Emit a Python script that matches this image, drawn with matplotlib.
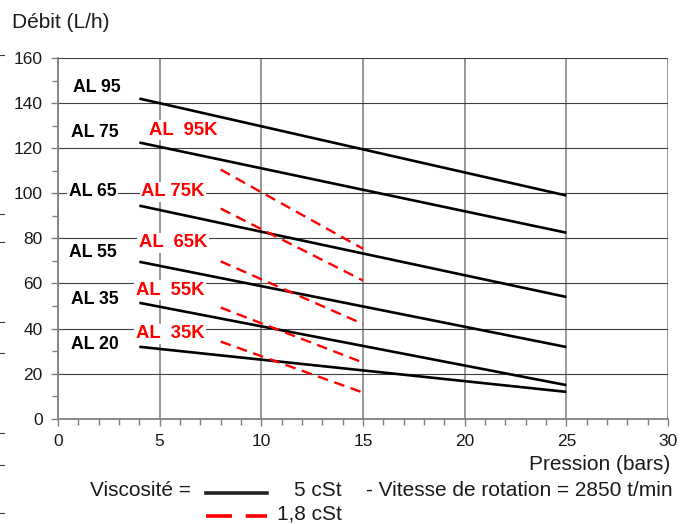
import matplotlib.pyplot as plt
from matplotlib.lines import Line2D
from matplotlib.ticker import MultipleLocator

plt.rcParams['font.family'] = ['Liberation Sans', 'DejaVu Sans']

# pompes standard (5 cSt) : debit a 4 bars et a 25 bars
models = ['AL 95', 'AL 75', 'AL 65', 'AL 55', 'AL 35', 'AL 20']
p_std = [4, 25]
q_std = [[142, 99], [122.5, 82.5], [94.5, 54], [69.6, 31.8], [51.4, 14.9], [31.9, 11.9]]
lab_std_x = [1.9, 1.8, 1.7, 1.7, 1.8, 1.8]
lab_std_y = [147, 127, 100.7, 73.6, 53, 33]

# pompes K (1,8 cSt) : debit a 8 bars et a 15 bars
models_k = ['AL  95K', 'AL 75K', 'AL  65K', 'AL  55K', 'AL  35K']
p_k = [8, 15]
q_k = [[110.5, 75.4], [93.2, 61.3], [69.8, 42], [49.3, 24.9], [34.2, 11.6]]
lab_k_x = [6.15, 5.65, 5.65, 5.5, 5.5]
lab_k_y = [128, 100.7, 78, 57, 37.6]

fig = plt.figure(figsize=(6.91, 5.24), dpi=100)
ax = fig.add_axes([58/691, 1-418.7/524, 610/691, 360.7/524])

for q in q_std:
    ax.plot(p_std, q, color='black', lw=1.9, zorder=4, solid_capstyle='butt')
for q in q_k:
    ax.plot(p_k, q, color='#ff0000', lw=1.7, ls=(0, (4.5, 2.8)), zorder=4)

box = dict(facecolor='white', edgecolor='none', pad=1)
for name, x, y in zip(models, lab_std_x, lab_std_y):
    ax.text(x, y, name, ha='center', va='center', fontsize=12.7, fontweight='bold',
            color='black', bbox=box, zorder=3)
for name, x, y in zip(models_k, lab_k_x, lab_k_y):
    ax.text(x, y, name, ha='center', va='center', fontsize=13.3, fontweight='bold',
            color='#ff0000', bbox=box, zorder=3)

ax.set_xlim(0, 30)
ax.set_ylim(0, 160)
ax.xaxis.set_major_locator(MultipleLocator(5))
ax.xaxis.set_minor_locator(MultipleLocator(1))
ax.yaxis.set_major_locator(MultipleLocator(20))
ax.yaxis.set_minor_locator(MultipleLocator(10))
ax.grid(axis='y', which='major', color='#404040', lw=0.8, zorder=1)
ax.grid(axis='x', which='major', color='#909090', lw=1.3, zorder=1)
ax.set_axisbelow(True)
ax.tick_params(which='both', direction='out', color='#808080', labelsize=12.5,
               labelcolor='#1a1a1a')
ax.tick_params(which='major', length=5, width=1)
ax.tick_params(which='minor', length=4, width=1)
ax.tick_params(axis='y', pad=6)
ax.tick_params(axis='x', pad=6)
for s in ['left', 'bottom']:
    ax.spines[s].set_color('#808080')
    ax.spines[s].set_linewidth(1.3)
for s in ['top', 'right']:
    ax.spines[s].set_visible(False)

fs = 15
fig.text(12/691, 1-22/524, 'Débit (L/h)', fontsize=fs, color='#1a1a1a', va='center', ha='left')
fig.text(670/691, 1-465/524, 'Pression (bars)', fontsize=fs, color='#1a1a1a', va='center', ha='right')
fig.text(90/691, 1-491/524, 'Viscosité =', fontsize=fs, color='#1a1a1a', va='center', ha='left')
fig.text(342/691, 1-491/524, '5 cSt', fontsize=fs, color='#1a1a1a', va='center', ha='right')
fig.text(673/691, 1-491/524, '- Vitesse de rotation = 2850 t/min', fontsize=fs, color='#1a1a1a',
         va='center', ha='right')
fig.text(342/691, 1-514/524, '1,8 cSt', fontsize=fs, color='#1a1a1a', va='center', ha='right')
fig.add_artist(Line2D([206/691, 267/691], [1-493/524, 1-493/524], color='#222222', lw=2.6))
fig.add_artist(Line2D([206/691, 267/691], [1-516/524, 1-516/524], color='#ff0000', lw=2.6,
                      ls=(0, (7.2, 3.8))))

# petits traits en marge gauche (restes de la mise en page d'origine)
for yy in [55, 214, 242, 322, 353, 433, 465, 513]:
    fig.add_artist(Line2D([0, 4/691], [1-yy/524, 1-yy/524], color='#404040', lw=0.8))

fig.savefig('out.png', dpi=100)
